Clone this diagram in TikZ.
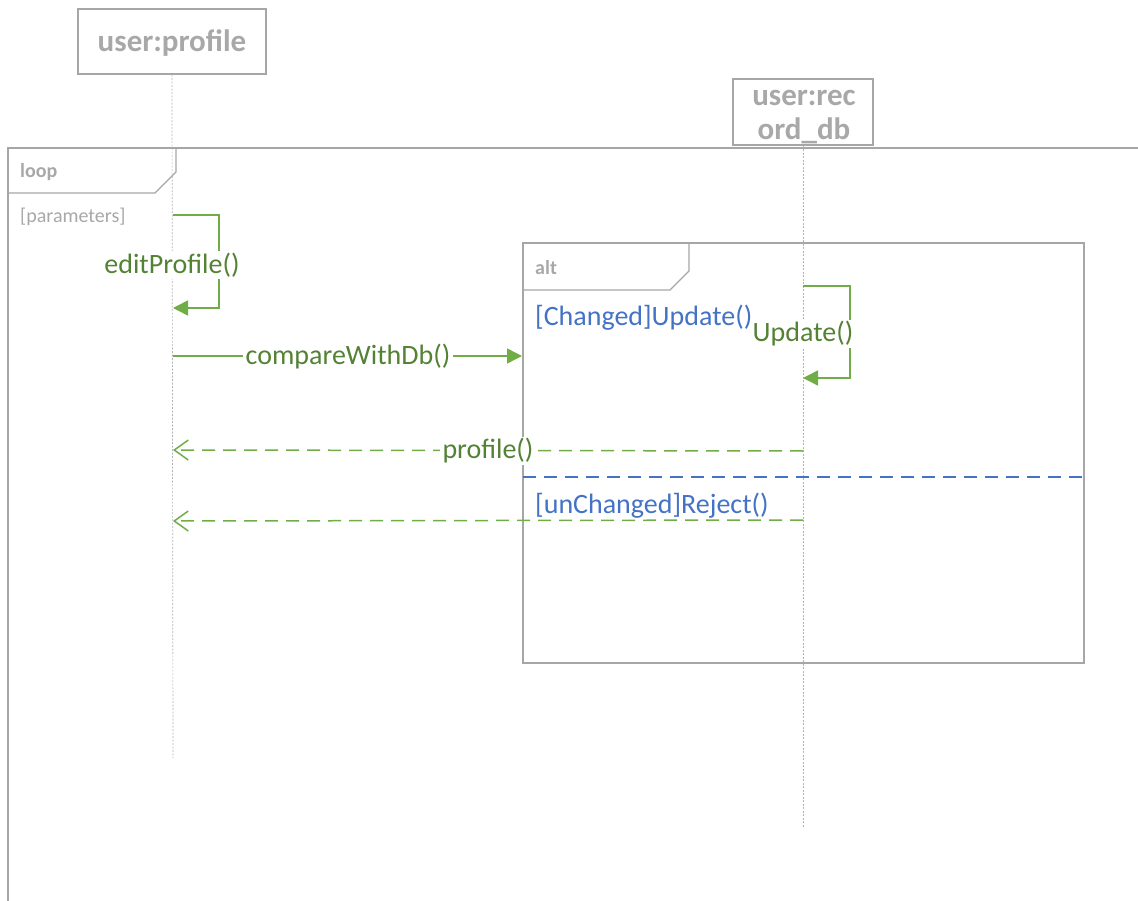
\documentclass[tikz,border=0pt]{standalone}
\usepackage{fontspec}
\setmainfont{Carlito}
\usetikzlibrary{arrows.meta}
\definecolor{frameGray}{RGB}{166,166,166}
\definecolor{headGray}{RGB}{168,168,168}
\definecolor{msgLine}{RGB}{112,173,71}
\definecolor{msgText}{RGB}{84,130,53}
\definecolor{guardBlue}{RGB}{68,114,196}

\begin{document}
\begin{tikzpicture}[x=1pt,y=-1pt,
  headbox/.style={draw=frameGray, line width=1.3pt, fill=white, inner sep=0pt},
  headtext/.style={font=\fontsize{31}{34}\selectfont\bfseries, text=headGray,
    align=center, inner sep=0pt},
  lifeline/.style={draw=frameGray!85, line width=0.7pt, dash pattern=on 2pt off 1.5pt},
  frame/.style={draw=frameGray, line width=1.3pt},
  fragname/.style={font=\fontsize{20}{22}\selectfont\bfseries, text=headGray,
    anchor=west, inner sep=0pt},
  fragguard/.style={font=\fontsize{20}{22}\selectfont, text=headGray,
    anchor=west, inner sep=0pt},
  guard/.style={font=\fontsize{28}{30}\selectfont, text=guardBlue,
    anchor=west, inner sep=0pt},
  call/.style={draw=msgLine, line width=1.5pt,
    -{Triangle[length=15pt,width=15pt]}},
  reply/.style={draw=msgLine, line width=1.5pt, dash pattern=on 13pt off 8pt,
    -{Straight Barb[length=14pt,width=20pt,line width=1.5pt]}},
  msg/.style={font=\fontsize{28}{30}\selectfont, text=msgText, fill=white,
    inner xsep=3pt, inner ysep=2pt},
]
\useasboundingbox (0,0) rectangle (1138,901);

% lifeline end points
\coordinate (profEnd) at (173,758);
\coordinate (dbEnd)   at (803,828);

% loop fragment (runs past the page edges)
\draw[frame] (1140,148) -- (8,148) -- (8,903);
\draw[frame] (8,193) -- (155,193) -- (176,172) -- (176,148);
\node[fragname]  (loopName)  at (20,172) {loop};
\node[fragguard] (loopGuard) at (20,217) {[parameters]};

% alt fragment
\draw[frame] (523,243) rectangle (1084,663);
\draw[frame] (523,290) -- (670,290) -- (689,271) -- (689,243);
\node[fragname] (altName) at (535,268) {alt};

% lifeline heads
\node[headbox, minimum width=188pt, minimum height=65pt] (prof) at (172,41.5) {};
\node[headtext] (profName) at (172,43) {user:profile};
\node[headbox, minimum width=140pt, minimum height=66pt] (db) at (803,112) {};
\node[headtext] (dbName) at (804,117) {user:rec\\ord\_db};

% lifelines
\draw[lifeline] (prof.south) -- (profEnd);
\draw[lifeline] (db.south) -- (dbEnd);

% message anchor points
\coordinate (e1) at (173,215);
\coordinate (e2) at (173,308);
\coordinate (c1) at (173,356);
\coordinate (c2) at (522,356);
\coordinate (u1) at (803,286);
\coordinate (u2) at (803,378);
\coordinate (r1) at (803,451);
\coordinate (r2) at (173,450);
\coordinate (s1) at (803,520);
\coordinate (s2) at (173,521);
\coordinate (sepL) at (523,477);
\coordinate (sepR) at (1084,477);

% operand separator of the alt fragment
\draw[guardBlue, line width=1.5pt, dash pattern=on 13pt off 8pt] (sepL) -- (sepR);

% messages
\draw[call] (e1) -- (219,215) -- (219,308) -- (e2);
\draw[call] (c1) -- (c2);
\draw[call] (u1) -- (850,286) -- (850,378) -- (u2);
\draw[reply] (r1) -- (r2);
\draw[reply] (s1) -- (s2);

% guards
\node[guard] (g1) at (535,318) {[Changed]Update()};
\node[guard] (g2) at (535,506) {[unChanged]Reject()};

% message labels
\node[msg] (lEdit)    at (172,265) {editProfile()};
\node[msg] (lCompare) at (348,357) {compareWithDb()};
\node[msg] (lUpdate)  at (803,334) {Update()};
\node[msg] (lProfile) at (488,451) {profile()};
\end{tikzpicture}
\end{document}
